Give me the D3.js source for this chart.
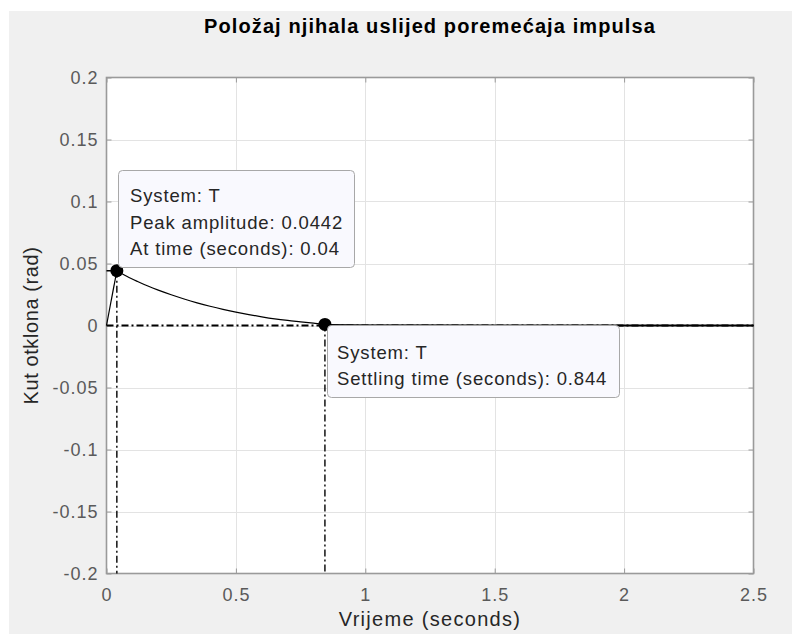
<!DOCTYPE html>
<html>
<head>
<meta charset="utf-8">
<script src="https://cdn.jsdelivr.net/npm/d3@7"></script>
<style>
  html, body { margin: 0; padding: 0; background: #ffffff; }
  svg { display: block; }
  text { font-family: "Liberation Sans", Arial, Helvetica, sans-serif; }
</style>
</head>
<body>
<svg id="chart" width="792" height="634"></svg>
<script>
// Impulse response of the pendulum angle (time in seconds, angle in rad)
const timeValues  = [0, 0.04, 0.08, 0.12, 0.16, 0.2, 0.25, 0.3, 0.35, 0.4, 0.45, 0.5, 0.55, 0.6, 0.65, 0.7, 0.75, 0.8, 0.844, 0.9, 1.0, 1.2, 1.5, 2.0, 2.5];
const angleValues = [0, 0.0442, 0.0395, 0.0355, 0.0318, 0.0285, 0.0248, 0.0214, 0.0183, 0.0155, 0.0130, 0.0108, 0.0088, 0.0070, 0.0054, 0.0041, 0.0030, 0.0019, 0.0009, 0.0005, 0.0002, 0.0001, 0, 0, 0];

// Characteristic points
const peakTime = 0.04;
const peakAmplitude = 0.0442;
const settlingTime = 0.844;
const settlingValue = 0.0009;
const steadyState = 0;

// Axis ticks
const xTicks = [0, 0.5, 1, 1.5, 2, 2.5];
const yTicks = [-0.2, -0.15, -0.1, -0.05, 0, 0.05, 0.1, 0.15, 0.2];
const xTickLabels = ["0", "0.5", "1", "1.5", "2", "2.5"];
const yTickLabels = ["-0.2", "-0.15", "-0.1", "-0.05", "0", "0.05", "0.1", "0.15", "0.2"];

// Texts
const titleText = "Položaj njihala uslijed poremećaja impulsa";
const xLabelText = "Vrijeme (seconds)";
const yLabelText = "Kut otklona (rad)";
const peakTipLines = ["System: T", "Peak amplitude: 0.0442", "At time (seconds): 0.04"];
const settleTipLines = ["System: T", "Settling time (seconds): 0.844"];

const svg = d3.select("#chart");
const W = 792, H = 634;
const plot = { left: 106.5, right: 753.5, top: 77.5, bottom: 573.5 };
const FONT = '"Liberation Sans", Arial, Helvetica, sans-serif';

// Figure background
svg.append("rect").attr("x", 9).attr("y", 11).attr("width", W - 9).attr("height", H - 11).attr("fill", "#f0f0f0");

const x = d3.scaleLinear().domain([0, 2.5]).range([plot.left, plot.right]);
const y = d3.scaleLinear().domain([-0.2, 0.2]).range([plot.bottom, plot.top]);

// Plot area
svg.append("rect")
  .attr("x", plot.left).attr("y", plot.top)
  .attr("width", plot.right - plot.left).attr("height", plot.bottom - plot.top)
  .attr("fill", "#ffffff");

// Grid
const grid = svg.append("g").attr("stroke", "#e3e3e3").attr("stroke-width", 1);
grid.selectAll("line.gx").data(xTicks.slice(1, -1)).join("line")
  .attr("x1", d => Math.round(x(d)) + 0.5).attr("x2", d => Math.round(x(d)) + 0.5)
  .attr("y1", plot.top).attr("y2", plot.bottom);
grid.selectAll("line.gy").data(yTicks.slice(1, -1)).join("line")
  .attr("y1", d => Math.round(y(d)) + 0.5).attr("y2", d => Math.round(y(d)) + 0.5)
  .attr("x1", plot.left).attr("x2", plot.right);

// Axes with inward ticks on all four sides
const axisColor = "#9a9a9a";
function styleAxis(g) {
  g.select(".domain").remove();
  g.selectAll(".tick line").attr("stroke", axisColor).attr("stroke-width", 1);
  g.selectAll(".tick text")
    .attr("fill", "#5a5a5a")
    .attr("font-size", 18)
    .attr("letter-spacing", 1)
    .attr("font-family", FONT);
}
const xLab = d => xTickLabels[xTicks.indexOf(d)];
const yLab = d => yTickLabels[yTicks.indexOf(d)];

svg.append("g").attr("transform", `translate(0,${plot.bottom})`)
  .call(d3.axisBottom(x).tickValues(xTicks).tickFormat(xLab).tickSizeInner(-5).tickSizeOuter(0).tickPadding(15))
  .call(styleAxis);
svg.append("g").attr("transform", `translate(0,${plot.top})`)
  .call(d3.axisTop(x).tickValues(xTicks).tickFormat("").tickSizeInner(-5).tickSizeOuter(0))
  .call(styleAxis);
svg.append("g").attr("transform", `translate(${plot.left},0)`)
  .call(d3.axisLeft(y).tickValues(yTicks).tickFormat(yLab).tickSizeInner(-5).tickSizeOuter(0).tickPadding(8))
  .call(styleAxis);
svg.append("g").attr("transform", `translate(${plot.right},0)`)
  .call(d3.axisRight(y).tickValues(yTicks).tickFormat("").tickSizeInner(-5).tickSizeOuter(0))
  .call(styleAxis);

// Axes box
svg.append("rect")
  .attr("x", plot.left).attr("y", plot.top)
  .attr("width", plot.right - plot.left).attr("height", plot.bottom - plot.top)
  .attr("fill", "none").attr("stroke", axisColor).attr("stroke-width", 1.6);

const dashDot = "7,3,2,3";
const marks = svg.append("g");

// Steady-state line
marks.append("line")
  .attr("x1", x(0)).attr("x2", x(2.5))
  .attr("y1", y(steadyState)).attr("y2", y(steadyState))
  .attr("stroke", "#000").attr("stroke-width", 2).attr("stroke-dasharray", dashDot);

// Peak guide lines
marks.append("line")
  .attr("x1", x(peakTime)).attr("x2", x(peakTime))
  .attr("y1", y(peakAmplitude)).attr("y2", plot.bottom)
  .attr("stroke", "#000").attr("stroke-width", 1.4).attr("stroke-dasharray", dashDot);
marks.append("line")
  .attr("x1", plot.left).attr("x2", x(peakTime))
  .attr("y1", y(peakAmplitude)).attr("y2", y(peakAmplitude))
  .attr("stroke", "#000").attr("stroke-width", 1.4).attr("stroke-dasharray", dashDot);

// Settling time guide line
marks.append("line")
  .attr("x1", x(settlingTime)).attr("x2", x(settlingTime))
  .attr("y1", y(settlingValue)).attr("y2", plot.bottom)
  .attr("stroke", "#000").attr("stroke-width", 1.4).attr("stroke-dasharray", dashDot);

// Response curve
const points = timeValues.map((t, i) => [t, angleValues[i]]);
const line = d3.line().x(d => x(d[0])).y(d => y(d[1])).curve(d3.curveMonotoneX);
marks.append("path")
  .datum(points.slice(0, 2))
  .attr("d", d3.line().x(d => x(d[0])).y(d => y(d[1])))
  .attr("fill", "none").attr("stroke", "#000").attr("stroke-width", 1.2);
marks.append("path")
  .datum(points.slice(1))
  .attr("d", line)
  .attr("fill", "none").attr("stroke", "#000").attr("stroke-width", 1.2);
// Response after settling lies on the steady-state line
marks.append("line")
  .attr("x1", x(settlingTime)).attr("x2", x(2.5))
  .attr("y1", y(steadyState)).attr("y2", y(steadyState))
  .attr("stroke", "#000").attr("stroke-width", 1.8);

// Markers
marks.append("circle").attr("cx", x(peakTime)).attr("cy", y(peakAmplitude)).attr("r", 6.5).attr("fill", "#000");
marks.append("circle").attr("cx", x(settlingTime)).attr("cy", y(settlingValue)).attr("r", 6.5).attr("fill", "#000");

// Data tips
function dataTip(bx, by, bw, bh, lines, tx, ty0, lh) {
  const g = svg.append("g");
  g.append("rect").attr("x", bx).attr("y", by).attr("width", bw).attr("height", bh)
    .attr("rx", 4).attr("fill", "#f9f9fe").attr("stroke", "#a8a8a8").attr("stroke-width", 1);
  g.selectAll("text").data(lines).join("text")
    .attr("x", tx).attr("y", (d, i) => ty0 + i * lh)
    .attr("font-size", 18.5).attr("letter-spacing", 0.85).attr("fill", "#262626")
    .text(d => d);
}
dataTip(118.5, 170.5, 236, 97, peakTipLines, 130, 202, 26.5);
dataTip(327.5, 325.5, 292, 72, settleTipLines, 337, 359, 26);

// Title and axis labels
svg.append("text")
  .attr("x", (plot.left + plot.right) / 2).attr("y", 33)
  .attr("text-anchor", "middle").attr("font-size", 20).attr("font-weight", "bold")
  .attr("letter-spacing", 1.1).attr("fill", "#000")
  .text(titleText);
svg.append("text")
  .attr("x", (plot.left + plot.right) / 2).attr("y", 626)
  .attr("text-anchor", "middle").attr("font-size", 20).attr("letter-spacing", 1.3).attr("fill", "#262626")
  .text(xLabelText);
svg.append("text")
  .attr("transform", `translate(38,${(plot.top + plot.bottom) / 2}) rotate(-90)`)
  .attr("text-anchor", "middle").attr("font-size", 20).attr("letter-spacing", 0.6).attr("fill", "#262626")
  .text(yLabelText);
</script>
</body>
</html>
